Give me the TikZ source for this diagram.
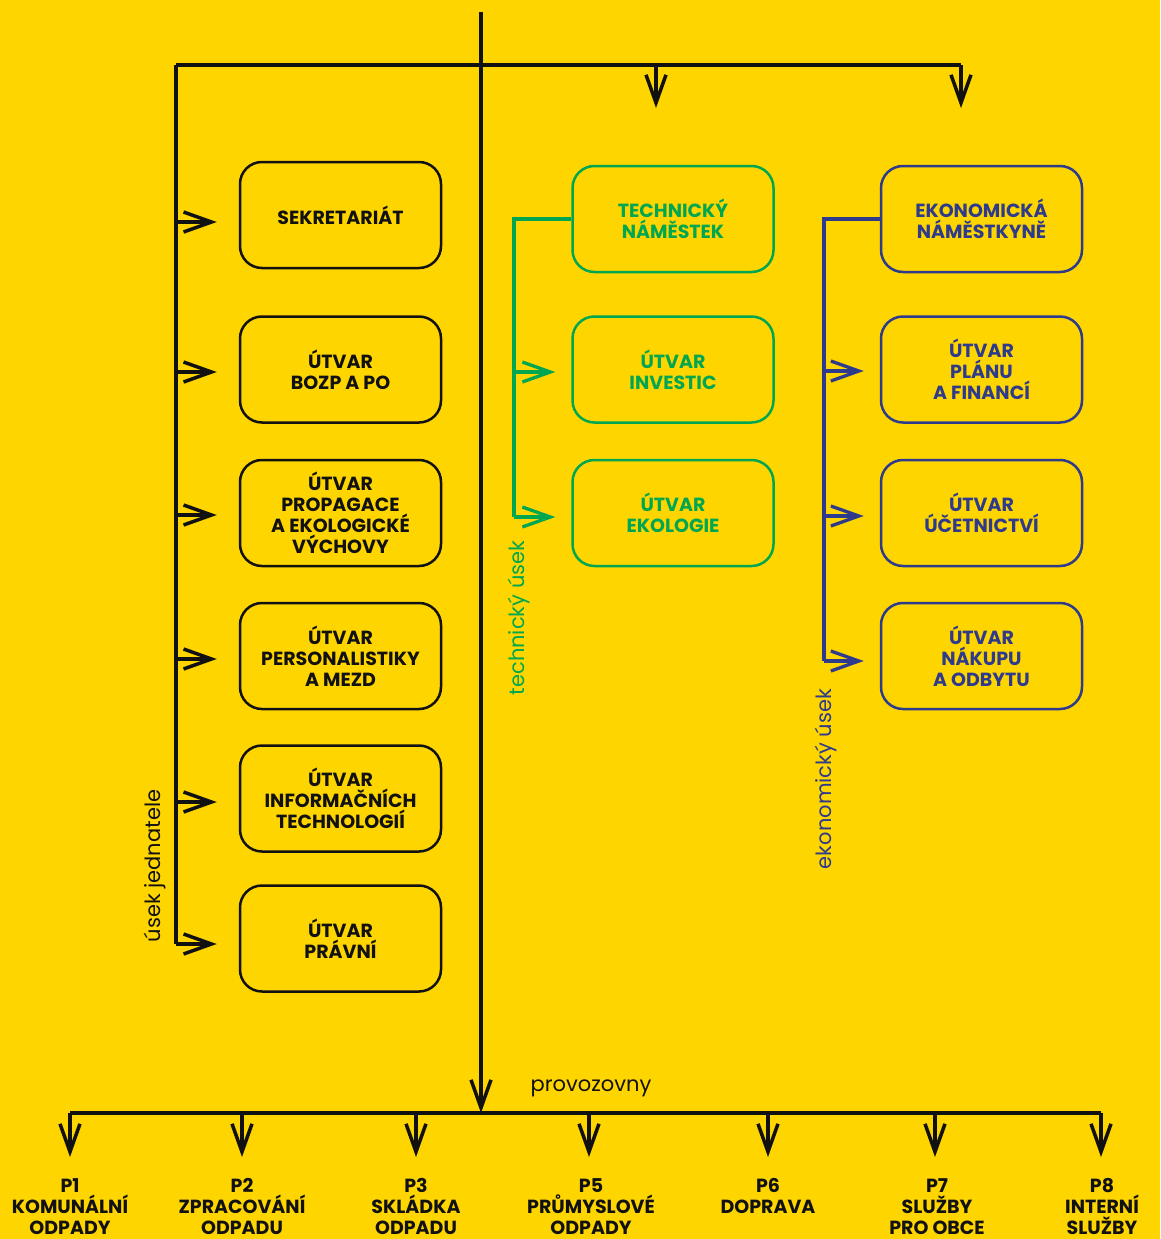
\documentclass[tikz,border=0pt]{standalone}
\usepackage{fontspec}
\setmainfont{Poppins}
\usetikzlibrary{arrows.meta}
\definecolor{bg}{HTML}{FFD500}
\definecolor{grn}{HTML}{00A650}
\definecolor{blu}{HTML}{2E3A8C}
\definecolor{blk}{HTML}{111111}
\tikzset{
  box/.style={draw, rounded corners=22pt, line width=2.5pt, minimum width=201pt, minimum height=106pt, align=center, font=\fontsize{19}{21}\selectfont\bfseries, inner sep=0pt},
  bbox/.style={box, draw=blk, text=blk},
  gbox/.style={box, draw=grn, text=grn},
  ubox/.style={box, draw=blu, text=blu},
  wire/.style={line width=3.5pt, blk},
  gwire/.style={line width=3.3pt, grn},
  uwire/.style={line width=3.3pt, blu},
  arr/.style={-{Straight Barb[length=28pt,width=20pt]}},
  plab/.style={align=center, font=\fontsize{19}{21}\selectfont\bfseries, text=blk, anchor=north, inner sep=0pt},
  side/.style={rotate=90, font=\fontsize{21}{24}\selectfont, inner sep=0pt}
}
\begin{document}
\begin{tikzpicture}[x=1pt,y=-1pt]
\fill[bg] (0,0) rectangle (1160,1239);
\useasboundingbox (0,0) rectangle (1160,1239);
% coordinates
\coordinate (top) at (481,12);
\coordinate (bus) at (481,1113);
\coordinate (tl) at (176,65);
\coordinate (tr) at (961,65);
\coordinate (tm) at (656,65);
\coordinate (lb) at (176,944);
% left boxes
\node[bbox] (b1) at (340.5,215) {SEKRETARIÁT};
\node[bbox] (b2) at (340.5,369.5) {ÚTVAR\\BOZP A PO};
\node[bbox] (b3) at (340.5,513) {ÚTVAR\\PROPAGACE\\A EKOLOGICKÉ\\VÝCHOVY};
\node[bbox] (b4) at (340.5,656) {ÚTVAR\\PERSONALISTIKY\\A MEZD};
\node[bbox] (b5) at (340.5,798.5) {ÚTVAR\\INFORMAČNÍCH\\TECHNOLOGIÍ};
\node[bbox] (b6) at (340.5,938.5) {ÚTVAR\\PRÁVNÍ};
% middle
\node[gbox] (g1) at (673,219) {TECHNICKÝ\\NÁMĚSTEK};
\node[gbox] (g2) at (673,369.5) {ÚTVAR\\INVESTIC};
\node[gbox] (g3) at (673,513) {ÚTVAR\\EKOLOGIE};
% right
\node[ubox] (u1) at (981.5,219) {EKONOMICKÁ\\NÁMĚSTKYNĚ};
\node[ubox] (u2) at (981.5,369.5) {ÚTVAR\\PLÁNU\\A FINANCÍ};
\node[ubox] (u3) at (981.5,513) {ÚTVAR\\ÚČETNICTVÍ};
\node[ubox] (u4) at (981.5,656) {ÚTVAR\\NÁKUPU\\A ODBYTU};
% main trunk
\draw[wire, arr] (top) -- (bus);
\draw[wire] (tl) -- (tr);
\draw[wire, arr] (tm) -- ++(0,43);
\draw[wire, arr] (tr) -- ++(0,43);
\draw[wire] (tl) -- (lb);
\foreach \n/\y in {b1/222,b2/372,b3/515,b4/659,b5/802,b6/944}
  \draw[wire, arr] (176,\y) -- ([xshift=-22pt]\n.west |- 0,\y);
% green
\draw[gwire] (g1.west) -- (514,219) -- (514,517);
\foreach \n/\y in {g2/372,g3/517}
  \draw[gwire, arr] (514,\y) -- ([xshift=-16pt]\n.west |- 0,\y);
% blue
\draw[uwire] (u1.west) -- (824,219) -- (824,661);
\foreach \n/\y in {u2/371,u3/516,u4/661}
  \draw[uwire, arr] (824,\y) -- ([xshift=-16pt]\n.west |- 0,\y);
% side labels
\node[side, text=blk] (sl) at (155,866) {úsek jednatele};
\node[side, text=grn] (sg) at (519,618) {technický úsek};
\node[side, text=blu] (sb) at (826,779) {ekonomický úsek};
% bottom bus
\coordinate (bl) at (70,1113);
\coordinate (br) at (1101,1113);
\draw[wire] (bl) -- (br);
\node[font=\fontsize{21}{24}\selectfont, text=blk, inner sep=0pt] (prov) at (591,1088) {provozovny};
\foreach \x/\t/\nm in {70/{P1\\KOMUNÁLNÍ\\ODPADY}/p1, 242/{P2\\ZPRACOVÁNÍ\\ODPADU}/p2, 416/{P3\\SKLÁDKA\\ODPADU}/p3, 591/{P5\\PRŮMYSLOVÉ\\ODPADY}/p5, 768/{P6\\DOPRAVA}/p6, 937/{P7\\SLUŽBY\\PRO OBCE}/p7, 1102/{P8\\INTERNÍ\\SLUŽBY}/p8}{
  \node[plab] (\nm) at (\x,1178) {\t};
}
\foreach \x in {70,242,416,589,768,935,1101}
  \draw[wire, arr] (\x,1113) -- (\x,1157);
\end{tikzpicture}
\end{document}
